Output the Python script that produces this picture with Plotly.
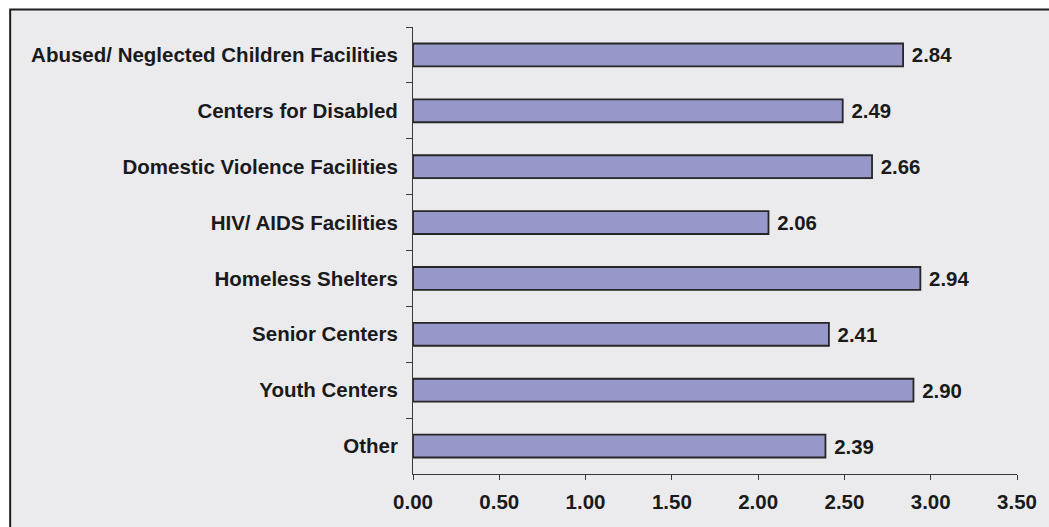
import plotly.graph_objects as go

categories = [
    "Abused/ Neglected Children Facilities",
    "Centers for Disabled",
    "Domestic Violence Facilities",
    "HIV/ AIDS Facilities",
    "Homeless Shelters",
    "Senior Centers",
    "Youth Centers",
    "Other",
]
values = [2.84, 2.49, 2.66, 2.06, 2.94, 2.41, 2.90, 2.39]
x_ticks = [0.0, 0.5, 1.0, 1.5, 2.0, 2.5, 3.0, 3.5]

FONT = "Liberation Sans, Arial, sans-serif"
W, H = 1049, 527
L, R, T, B = 413, 28, 27, 53
pw, ph = W - L - R, H - T - B

fig = go.Figure(
    go.Bar(
        x=values,
        y=categories,
        orientation="h",
        width=0.41,
        marker=dict(color="#9797c9", line=dict(color="#262626", width=1.8)),
        text=[f" {v:.2f}" for v in values],
        textposition="outside",
        textfont=dict(family=FONT, size=20.5, color="#1a1a1a", weight="bold"),
        cliponaxis=False,
        hoverinfo="skip",
    )
)

fig.add_shape(
    type="rect", xref="paper", yref="paper",
    x0=(7.5 - L) / pw, x1=2, y0=-1, y1=(H - B - 9.5) / ph,
    fillcolor="#ebebee", line=dict(color="#1e1e1e", width=2), layer="below",
)

fig.update_layout(
    width=W, height=H,
    margin=dict(l=L, r=R, t=T, b=B, pad=0),
    paper_bgcolor="white",
    plot_bgcolor="rgba(0,0,0,0)",
    showlegend=False,
    font=dict(family=FONT, size=20.5, color="#1a1a1a", weight="bold"),
    xaxis=dict(
        range=[0, 3.5], tickvals=x_ticks, tickformat=".2f",
        showgrid=False, zeroline=False,
        showline=True, linecolor="#3a3a3a", linewidth=1,
        ticks="outside", ticklen=5, tickcolor="#3a3a3a", tickwidth=1,
        tickfont=dict(family=FONT, size=20.5, color="#1a1a1a", weight="bold"),
        ticklabelstandoff=4,
    ),
    yaxis=dict(
        autorange="reversed", type="category",
        showgrid=False, zeroline=False,
        showline=True, linecolor="#3a3a3a", linewidth=1,
        ticks="outside", ticklen=6, tickcolor="#3a3a3a", tickwidth=1,
        tickson="boundaries",
        tickfont=dict(family=FONT, size=20.5, color="#1a1a1a", weight="bold"),
        ticklabelstandoff=10,
    ),
)

fig.write_html("out.html")
